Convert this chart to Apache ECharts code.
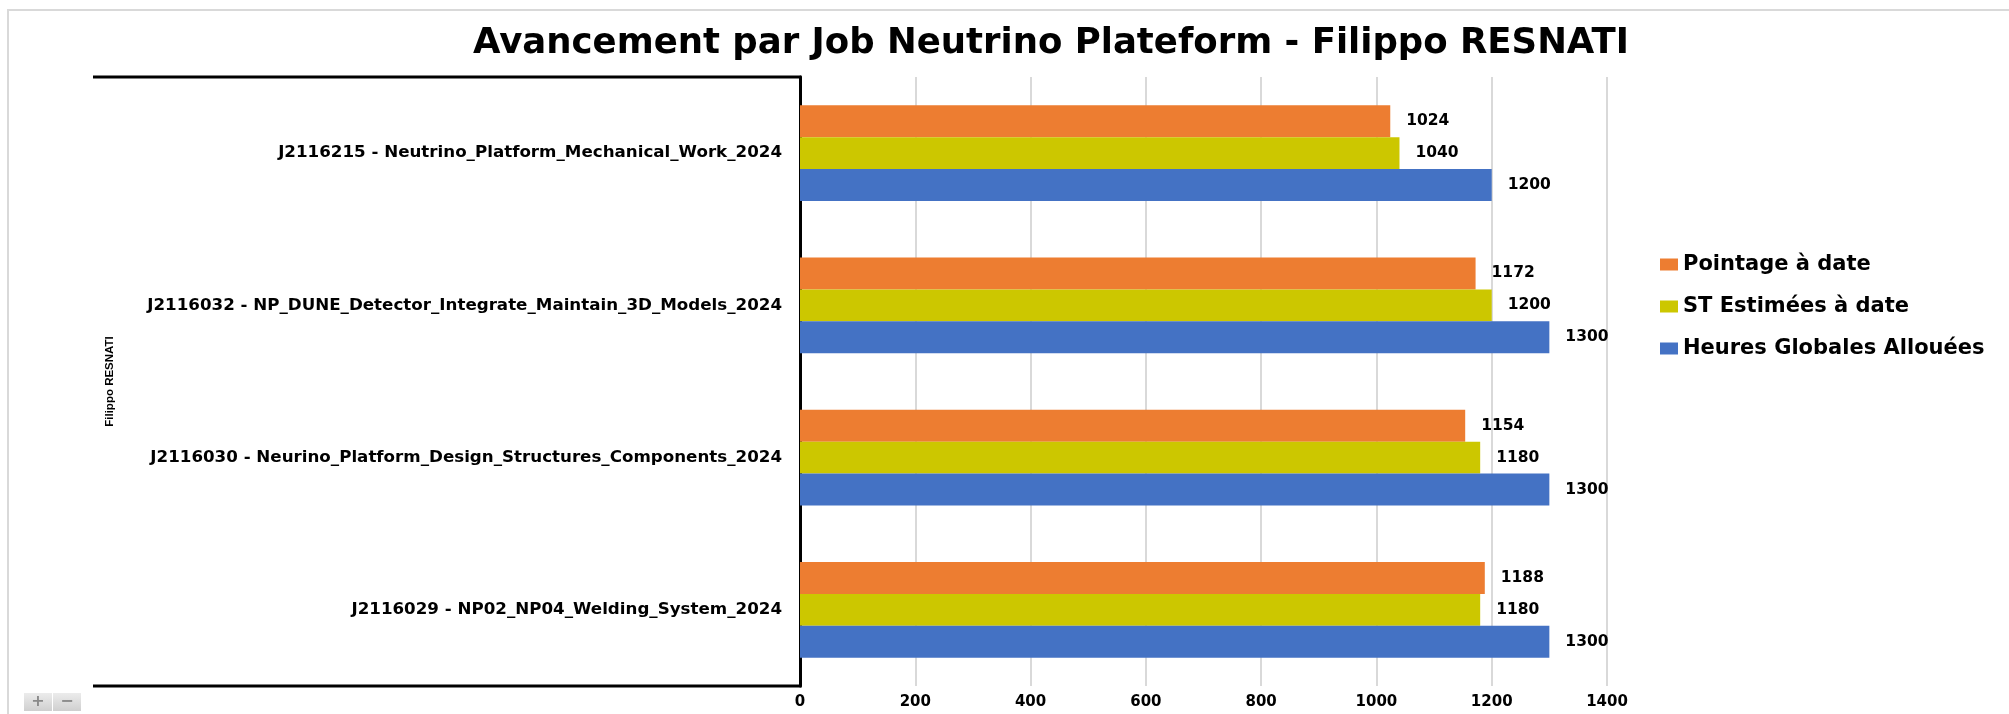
<!DOCTYPE html>
<html>
<head>
<meta charset="utf-8">
<script src="https://cdn.jsdelivr.net/npm/echarts@6/dist/echarts.min.js"></script>
<style>
html,body{margin:0;padding:0;background:#fff;}
#c{width:2009px;height:714px;}
</style>
</head>
<body>
<div id="c"></div>
<script>
var titleText = 'Avancement par Job Neutrino Plateform - Filippo RESNATI';
var axisName = 'Filippo RESNATI';
var categories = [
  'J2116215 - Neutrino_Platform_Mechanical_Work_2024',
  'J2116032 - NP_DUNE_Detector_Integrate_Maintain_3D_Models_2024',
  'J2116030 - Neurino_Platform_Design_Structures_Components_2024',
  'J2116029 - NP02_NP04_Welding_System_2024'
];
var seriesNames = ['Pointage à date', 'ST Estimées à date', 'Heures Globales Allouées'];
var pointage = [1024, 1172, 1154, 1188];
var stEstimees = [1040, 1200, 1180, 1180];
var heures = [1200, 1300, 1300, 1300];
var xTicks = { min: 0, max: 1400, interval: 200 };

var colors = ['#ED7D31', '#CCC700', '#4472C4'];
var GRID_LEFT = 800, GRID_TOP = 77, GRID_W = 807, GRID_H = 609;
var FRAME_LEFT = 93;

var chart = echarts.init(document.getElementById('c'), null, { renderer: 'canvas' });

function barSeries(name, data, color) {
  return {
    name: name,
    type: 'bar',
    data: data,
    barGap: '0%',
    barCategoryGap: '37%',
    itemStyle: { color: color },
    label: {
      show: true,
      position: 'right',
      distance: 16,
      color: '#000',
      fontFamily: 'DejaVu Sans',
      fontWeight: 'bold',
      fontSize: 15.5
    }
  };
}

var option = {
  animation: false,
  backgroundColor: '#fff',
  title: {
    text: titleText,
    left: 473,
    top: 26,
    padding: 0,
    textStyle: {
      fontFamily: 'DejaVu Sans',
      fontWeight: 'bold',
      fontSize: 35.5,
      color: '#000'
    }
  },
  legend: {
    orient: 'vertical',
    left: 1655,
    top: 249,
    itemWidth: 18,
    itemHeight: 12,
    itemGap: 21,
    icon: 'rect',
    data: seriesNames,
    textStyle: {
      fontFamily: 'DejaVu Sans',
      fontWeight: 'bold',
      fontSize: 21,
      lineHeight: 20,
      color: '#000'
    }
  },
  grid: {
    left: GRID_LEFT,
    top: GRID_TOP,
    width: GRID_W,
    height: GRID_H,
    containLabel: false
  },
  xAxis: {
    type: 'value',
    min: xTicks.min,
    max: xTicks.max,
    interval: xTicks.interval,
    axisLine: { show: false },
    axisTick: { show: false },
    splitLine: { show: true, lineStyle: { color: '#d9d9d9', width: 2 } },
    axisLabel: {
      color: '#000',
      fontFamily: 'DejaVu Sans',
      fontWeight: 'bold',
      fontSize: 15,
      margin: 9,
      formatter: function (v) { return String(v); }
    }
  },
  yAxis: {
    type: 'category',
    data: categories,
    inverse: true,
    name: axisName,
    nameLocation: 'middle',
    nameGap: 684,
    nameTextStyle: {
      fontFamily: "'Liberation Sans', sans-serif",
      fontWeight: 'bold',
      fontSize: 11.5,
      color: '#000'
    },
    axisLine: { show: true, lineStyle: { color: '#000', width: 3 } },
    axisTick: { show: false },
    splitLine: { show: false },
    axisLabel: {
      color: '#000',
      fontFamily: 'DejaVu Sans',
      fontWeight: 'bold',
      fontSize: 16.7,
      margin: 18
    }
  },
  series: [
    barSeries(seriesNames[0], pointage, colors[0]),
    barSeries(seriesNames[1], stEstimees, colors[1]),
    barSeries(seriesNames[2], heures, colors[2])
  ],
  graphic: [
    {
      type: 'rect', silent: true, z: -10,
      shape: { x: 8, y: 10, width: 2100, height: 800 },
      style: { fill: 'none', stroke: '#d9d9d9', lineWidth: 2 }
    },
    {
      type: 'line', silent: true,
      shape: { x1: FRAME_LEFT, y1: GRID_TOP, x2: GRID_LEFT + 1.5, y2: GRID_TOP },
      style: { stroke: '#000', lineWidth: 3 }
    },
    {
      type: 'line', silent: true,
      shape: { x1: FRAME_LEFT, y1: GRID_TOP + GRID_H, x2: GRID_LEFT + 1.5, y2: GRID_TOP + GRID_H },
      style: { stroke: '#000', lineWidth: 3 }
    },
    {
      type: 'rect', silent: true,
      shape: { x: 24, y: 693, width: 28, height: 18 },
      style: {
        fill: new echarts.graphic.LinearGradient(0, 0, 0, 1, [
          { offset: 0, color: '#ececec' }, { offset: 1, color: '#cfcfcf' }
        ])
      }
    },
    {
      type: 'rect', silent: true,
      shape: { x: 53, y: 693, width: 28, height: 18 },
      style: {
        fill: new echarts.graphic.LinearGradient(0, 0, 0, 1, [
          { offset: 0, color: '#ececec' }, { offset: 1, color: '#cfcfcf' }
        ])
      }
    },
    {
      type: 'text', silent: true,
      x: 38, y: 702,
      style: { text: '+', fill: '#8a8a8a', font: 'bold 16px DejaVu Sans', align: 'center', verticalAlign: 'middle' }
    },
    {
      type: 'text', silent: true,
      x: 67, y: 702,
      style: { text: '−', fill: '#8a8a8a', font: 'bold 16px DejaVu Sans', align: 'center', verticalAlign: 'middle' }
    }
  ]
};
chart.setOption(option);
</script>
</body>
</html>
